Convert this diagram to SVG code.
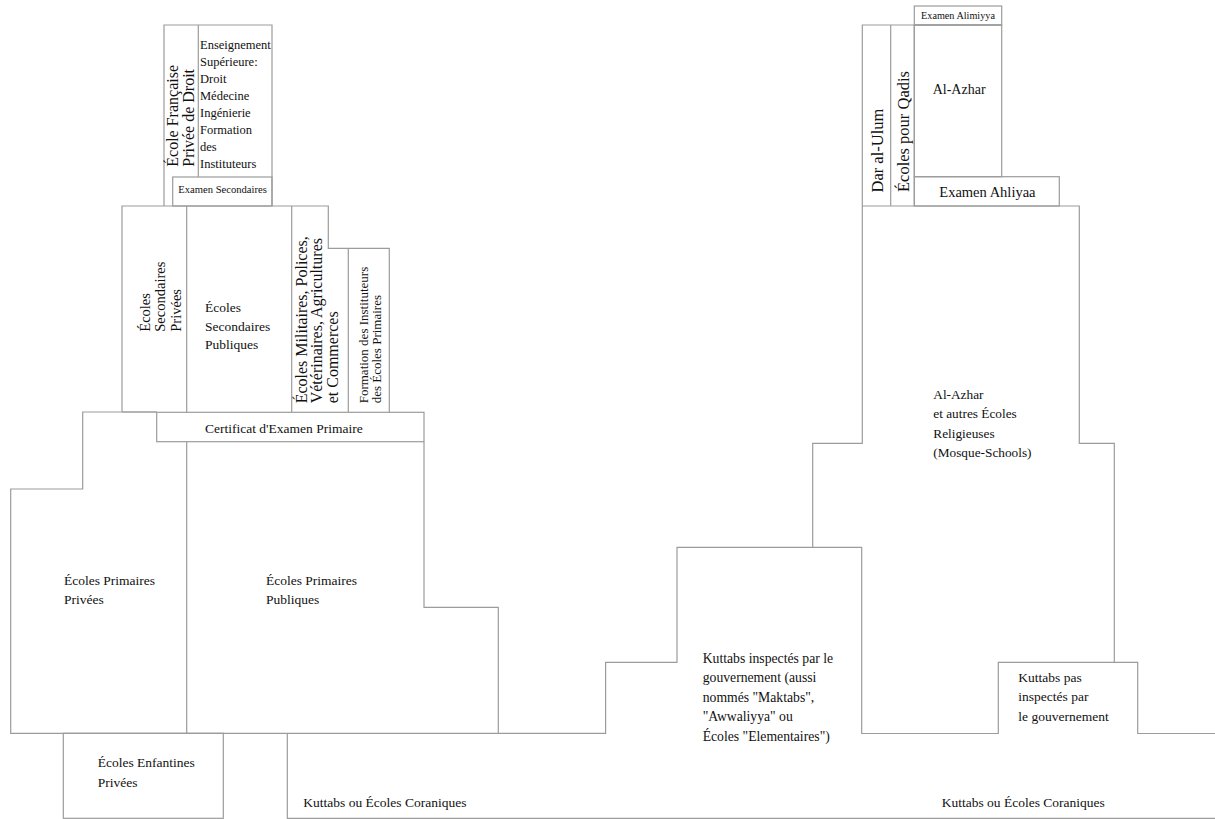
<svg xmlns="http://www.w3.org/2000/svg" width="1215" height="819" viewBox="0 0 1215 819">
<style>
.ln{fill:none;stroke:#9c9c9c;stroke-width:1.2}
text{font-family:"Liberation Serif","Times New Roman",serif;fill:#111}
.t{font-size:13.5px}
.s{font-size:12.5px}
</style>
<rect width="1215" height="819" fill="#fff"/>
<g id="outlines" class="ln">
<!-- left tower -->
<path d="M164,206V25H272V206"/>
<path d="M198.3,25V177"/>
<!-- secondary row -->
<path d="M122,412V206H328.3V248.3H389.3V412"/>
<path d="M186.7,206V412M291.7,206V412M348.3,248.3V412"/>
<path d="M122,412H156.7"/>
<!-- primary row -->
<path d="M156.7,412H82.7V489H10.7V733.3H605.6V662.3H677V547.3H861.7V733.5H998.3V662.3H1137.7V733.5H1215"/>
<path d="M186.7,442V733.3"/>
<path d="M424,442V607.3H498.3V733.3"/>
<!-- right body -->
<path d="M812.7,547.3V443.3H862.3V25H1001.7"/>
<path d="M862.3,206H1079.3V443.3H1114.3V662.3"/>
<path d="M890.7,25V206M914.3,25V206"/>
<!-- bottom -->
<path d="M287.3,733.3V818.3H1215"/>
</g>
<g id="ecole-francaise">
<text transform="translate(178.3,166.7) rotate(-90)" style="font-size:16px">École Française</text>
<text transform="translate(194,166.7) rotate(-90)" style="font-size:16px">Privée de Droit</text>
</g>
<g id="enseignement-superieur" class="s">
<text x="200" y="48.5">Enseignement</text>
<text x="200" y="65.6">Supérieure:</text>
<text x="200" y="82.7">Droit</text>
<text x="200" y="99.8">Médecine</text>
<text x="200" y="116.9">Ingénierie</text>
<text x="200" y="134">Formation</text>
<text x="200" y="151.1">des</text>
<text x="200" y="168.2">Instituteurs</text>
</g>
<g id="examen-secondaires">
<rect class="ln" x="172.7" y="177" width="99.3" height="29"/>
<text x="178.3" y="193.3" style="font-size:10.6px">Examen Secondaires</text>
</g>
<g id="secondaires-privees" style="font-size:14.5px">
<text transform="translate(150,331.7) rotate(-90)">Écoles</text>
<text transform="translate(165.3,331.7) rotate(-90)">Secondaires</text>
<text transform="translate(180.7,331.7) rotate(-90)">Privées</text>
</g>
<g id="secondaires-publiques" class="t">
<text x="205" y="312">Écoles</text>
<text x="205" y="330.5">Secondaires</text>
<text x="205" y="349">Publiques</text>
</g>
<g id="ecoles-militaires" style="font-size:16px">
<text transform="translate(306.5,403.3) rotate(-90)">Écoles Militaires, Polices,</text>
<text transform="translate(322.2,403.3) rotate(-90)">Vétérinaires, Agricultures</text>
<text transform="translate(338,403.3) rotate(-90)">et Commerces</text>
</g>
<g id="formation-instituteurs" style="font-size:13px">
<text transform="translate(367.5,403.3) rotate(-90)">Formation des Instituteurs</text>
<text transform="translate(380.5,403.3) rotate(-90)">des Écoles Primaires</text>
</g>
<g id="certificat">
<rect class="ln" x="156.7" y="412.3" width="267.3" height="29.4"/>
<text class="t" x="205" y="432.7">Certificat d'Examen Primaire</text>
</g>
<g id="primaires-privees" class="t">
<text x="64" y="585">Écoles Primaires</text>
<text x="64" y="604">Privées</text>
</g>
<g id="primaires-publiques" class="t">
<text x="266" y="585">Écoles Primaires</text>
<text x="266" y="604">Publiques</text>
</g>
<g id="enfantines-privees">
<rect class="ln" x="63.3" y="733.3" width="160" height="85"/>
<text class="t" x="97.7" y="766.7">Écoles Enfantines</text>
<text class="t" x="97.7" y="786.7">Privées</text>
</g>
<g id="kuttabs-gauche">
<text class="t" x="303.3" y="806.7">Kuttabs ou Écoles Coraniques</text>
</g>
<g id="kuttabs-inspectes" style="font-size:13.7px">
<text x="702.7" y="662.7">Kuttabs inspectés par le</text>
<text x="702.7" y="682.2">gouvernement (aussi</text>
<text x="702.7" y="701.8">nommés "Maktabs",</text>
<text x="702.7" y="721.4">"Awwaliyya" ou</text>
<text x="702.7" y="741">Écoles "Elementaires")</text>
</g>
<g id="kuttabs-pas-inspectes" class="t">
<text x="1018.3" y="681.5">Kuttabs pas</text>
<text x="1018.3" y="701">inspectés par</text>
<text x="1018.3" y="720.5">le gouvernement</text>
</g>
<g id="kuttabs-droite">
<text class="t" x="941.7" y="806.7">Kuttabs ou Écoles Coraniques</text>
</g>
<g id="al-azhar-ecoles-religieuses" style="font-size:13.3px">
<text x="933.3" y="398.5">Al-Azhar</text>
<text x="933.3" y="418">et autres Écoles</text>
<text x="933.3" y="437.5">Religieuses</text>
<text x="933.3" y="457">(Mosque-Schools)</text>
</g>
<g id="dar-al-ulum">
<text transform="translate(882.7,192.5) rotate(-90)" style="font-size:16.5px">Dar al-Ulum</text>
</g>
<g id="ecoles-qadis">
<text transform="translate(908.5,192) rotate(-90)" style="font-size:16.5px">Écoles pour Qadis</text>
</g>
<g id="examen-alimiyya">
<rect class="ln" x="914.3" y="6" width="87.4" height="19"/>
<text x="958" y="18.5" text-anchor="middle" style="font-size:10.2px">Examen Alimiyya</text>
</g>
<g id="al-azhar">
<rect class="ln" x="914.3" y="25" width="87.4" height="151.7"/>
<text x="932.7" y="94.3" style="font-size:14px">Al-Azhar</text>
</g>
<g id="examen-ahliyaa">
<rect class="ln" x="914.3" y="176.7" width="145" height="29.3"/>
<text x="939.3" y="196.7" style="font-size:14.5px">Examen Ahliyaa</text>
</g>
</svg>
